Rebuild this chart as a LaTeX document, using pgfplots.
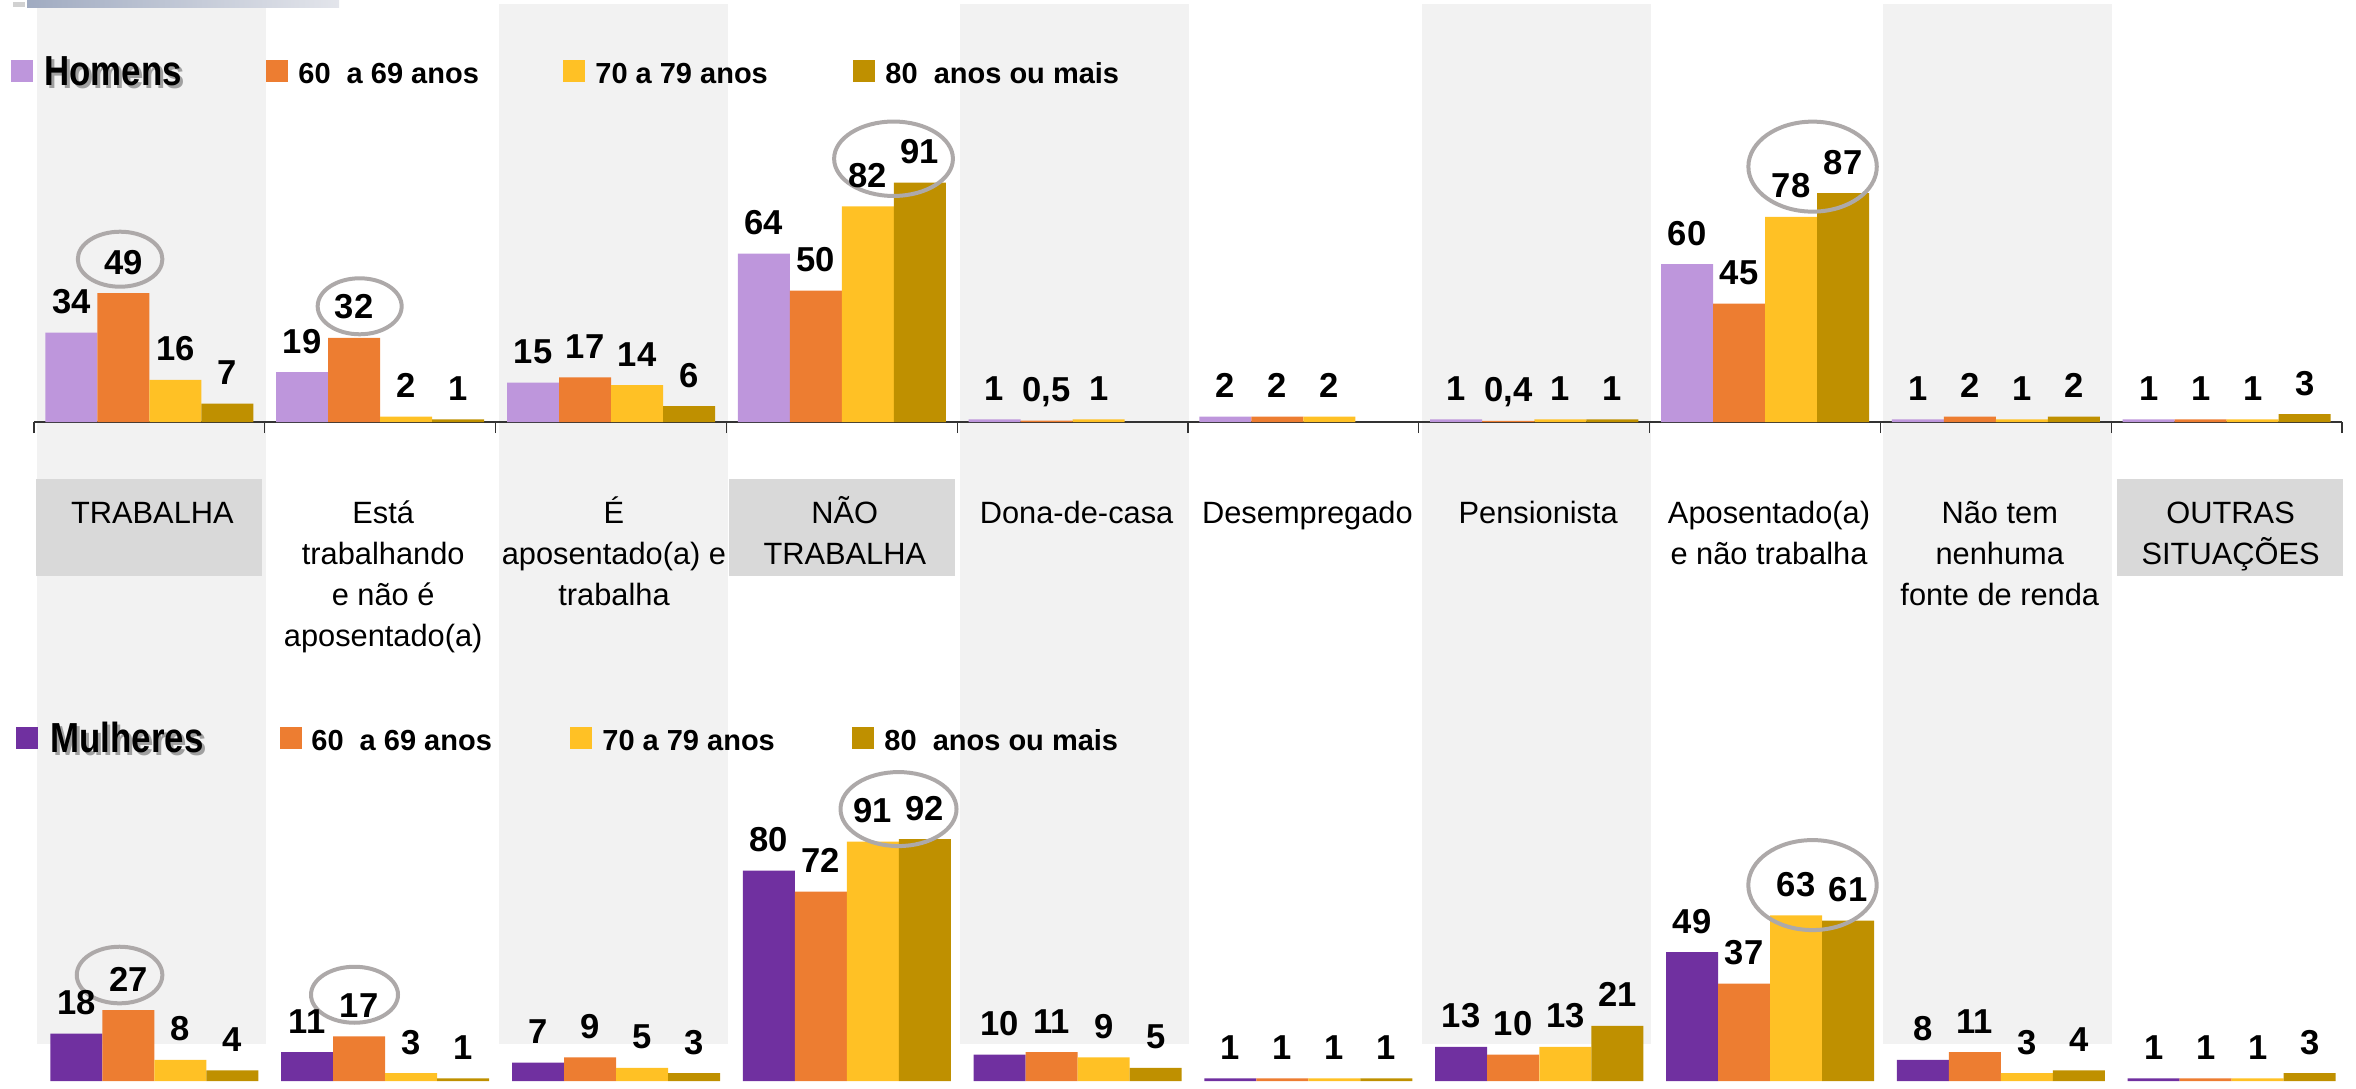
\documentclass[border=0pt]{standalone}
\usepackage{graphicx}
\usepackage{fontspec}
\setmainfont{Liberation Sans}
\usepackage{pgfplots}
\pgfplotsset{compat=1.18}
\definecolor{hom}{HTML}{BE96DC}
\definecolor{mul}{HTML}{7030A0}
\definecolor{cA}{HTML}{ED7D31}
\definecolor{cB}{HTML}{FFC125}
\definecolor{cC}{HTML}{BF9000}
\definecolor{band}{HTML}{F2F2F2}
\definecolor{boxg}{HTML}{D9D9D9}
\definecolor{ringc}{HTML}{ADA9A9}
\newcommand{\catfont}{\fontsize{15.4}{18}\selectfont}
\newcommand{\legfont}{\fontsize{14.5}{17}\selectfont\bfseries}
\newcommand{\bigleg}[1]{\scalebox{0.83}[1]{\fontsize{21}{24}\selectfont\bfseries #1}}
\newcommand{\cl}[3]{\node[anchor=base,inner sep=0pt,font=\catfont] at (#1,#2) {#3};}
\tikzset{ringst/.style={draw=ringc, line width=2pt}}
\pgfplotsset{
  mybars/.style={
    scale only axis, width=1154pt, height=131.5pt,
    xmin=-0.5, xmax=9.5, ymin=0, ymax=100,
    ybar, bar width=0.2253, clip=false,
    nodes near coords,
    every node near coord/.append style={anchor=base, inner sep=0pt, yshift=9.5pt,
      font=\fontsize{17.3}{20}\selectfont\bfseries, text=black},
    /pgf/number format/use comma,
    /pgf/number format/assume math mode=true,
    ytick=\empty,
  },
}
\begin{document}
\begin{tikzpicture}[x=0.5pt,y=-0.5pt]
\path[use as bounding box] (0,0) rectangle (2356,1088);
% background bands
\foreach \k in {0,2,4,6,8} {
  \fill[band] ({37+230.8*\k},4) rectangle ({266+230.8*\k},1044);
}
% decorative bar
\fill[black!18] (13,2) rectangle (25,7);
\shade[left color={rgb,255:red,160;green,171;blue,193}, right color={rgb,255:red,227;green,229;blue,235}] (27,0) rectangle (339,7.3);
% category boxes
\fill[boxg] (36,479) rectangle (262,576);
\fill[boxg] (729,479) rectangle (955,576);
\fill[boxg] (2117,479) rectangle (2343,576);
% category labels
\cl{152.4}{523}{TRABALHA}
\cl{383.2}{523}{Está}
\cl{383.2}{564}{trabalhando}
\cl{383.2}{605}{e não é}
\cl{383.2}{646}{aposentado(a)}
\cl{614}{523}{É}
\cl{614}{564}{aposentado(a) e}
\cl{614}{605}{trabalha}
\cl{844.8}{523}{NÃO}
\cl{844.8}{564}{TRABALHA}
\cl{1076.6}{523}{Dona-de-casa}
\cl{1307.4}{523}{Desempregado}
\cl{1538.2}{523}{Pensionista}
\cl{1769}{523}{Aposentado(a)}
\cl{1769}{564}{e não trabalha}
\cl{1999.8}{523}{Não tem}
\cl{1999.8}{564}{nenhuma}
\cl{1999.8}{605}{fonte de renda}
\cl{2230.6}{523}{OUTRAS}
\cl{2230.6}{564}{SITUAÇÕES}
% legends
\fill[hom] (11,60) rectangle (33,82);
\node[anchor=base west,inner sep=0pt,text=black!45,opacity=0.8] at (47,88) {\bigleg{Homens}};
\node[anchor=base west,inner sep=0pt] at (44,85) {\bigleg{Homens}};
\fill[cA] (266,60) rectangle (288,82);
\node[anchor=base west,inner sep=0pt,font=\legfont] at (298,83) {60\ \ a 69 anos};
\fill[cB] (563,60) rectangle (585,82);
\node[anchor=base west,inner sep=0pt,font=\legfont] at (595,83) {70 a 79 anos};
\fill[cC] (853,60) rectangle (875,82);
\node[anchor=base west,inner sep=0pt,font=\legfont] at (885,83) {80\ \ anos ou mais};
\fill[mul] (16,727) rectangle (38,749);
\node[anchor=base west,inner sep=0pt,text=black!45,opacity=0.8] at (53,755) {\bigleg{Mulheres}};
\node[anchor=base west,inner sep=0pt] at (50,752) {\bigleg{Mulheres}};
\fill[cA] (280,727) rectangle (302,749);
\node[anchor=base west,inner sep=0pt,font=\legfont] at (311,750) {60\ \ a 69 anos};
\fill[cB] (570,727) rectangle (592,749);
\node[anchor=base west,inner sep=0pt,font=\legfont] at (602,750) {70 a 79 anos};
\fill[cC] (852,727) rectangle (874,749);
\node[anchor=base west,inner sep=0pt,font=\legfont] at (884,750) {80\ \ anos ou mais};
\coordinate (TO) at (34,422);
\coordinate (BO) at (39,1081);
% top chart: Homens
\begin{axis}[mybars, at={(TO)}, anchor=south west,
  axis y line=none, axis x line*=bottom,
  xtick={-0.5,0.5,1.5,2.5,3.5,4.5,5.5,6.5,7.5,8.5,9.5}, xticklabels={},
  tick align=outside, major tick length=5.5pt,
  axis line style={black!80, line width=0.6pt},
  xtick style={black!80, line width=0.6pt}]
\addplot[fill=hom, draw=none, bar shift=-0.338] coordinates {(0,34)(1,19)(2,15)(3,64)(4,1)(5,2)(6,1)(7,60)(8,1)(9,1)};
\addplot[fill=cA, draw=none, bar shift=-0.1127] coordinates {(0,49)(1,32)(2,17)(3,50)(4,0.5)(5,2)(6,0.4)(7,45)(8,2)(9,1)};
\addplot[fill=cB, draw=none, bar shift=0.1127] coordinates {(0,16)(1,2)(2,14)(3,82)(4,1)(5,2)(6,1)(7,78)(8,1)(9,1)};
\addplot[fill=cC, draw=none, bar shift=0.338] coordinates {(0,7)(1,1)(2,6)(3,91)(6,1)(7,87)(8,2)(9,3)};
\draw[ringst] (axis cs:-0.127,61.9) ellipse [x radius=21.15pt, y radius=13.75pt];
\draw[ringst] (axis cs:0.911,44.0) ellipse [x radius=21pt, y radius=14pt];
\draw[ringst] (axis cs:3.224,100.1) ellipse [x radius=29.7pt, y radius=18.6pt];
\draw[ringst] (axis cs:7.206,97.1) ellipse [x radius=32.1pt, y radius=22.5pt];
\end{axis}
% bottom chart: Mulheres
\begin{axis}[mybars, at={(BO)}, anchor=south west, hide axis]
\addplot[fill=mul, draw=none, bar shift=-0.338] coordinates {(0,18)(1,11)(2,7)(3,80)(4,10)(5,1)(6,13)(7,49)(8,8)(9,1)};
\addplot[fill=cA, draw=none, bar shift=-0.1127] coordinates {(0,27)(1,17)(2,9)(3,72)(4,11)(5,1)(6,10)(7,37)(8,11)(9,1)};
\addplot[fill=cB, draw=none, bar shift=0.1127] coordinates {(0,8)(1,3)(2,5)(3,91)(4,9)(5,1)(6,13)(7,63)(8,3)(9,1)};
\addplot[fill=cC, draw=none, bar shift=0.338] coordinates {(0,4)(1,1)(2,3)(3,92)(4,5)(5,1)(6,21)(7,61)(8,4)(9,3)};
\draw[ringst] (axis cs:-0.151,40.3) ellipse [x radius=21.4pt, y radius=14.15pt];
\draw[ringst] (axis cs:0.867,32.8) ellipse [x radius=21.75pt, y radius=14pt];
\draw[ringst] (axis cs:3.224,103.4) ellipse [x radius=29pt, y radius=18.5pt];
\draw[ringst] (axis cs:7.184,74.5) ellipse [x radius=32.1pt, y radius=22.5pt];
\end{axis}
\end{tikzpicture}
\end{document}
